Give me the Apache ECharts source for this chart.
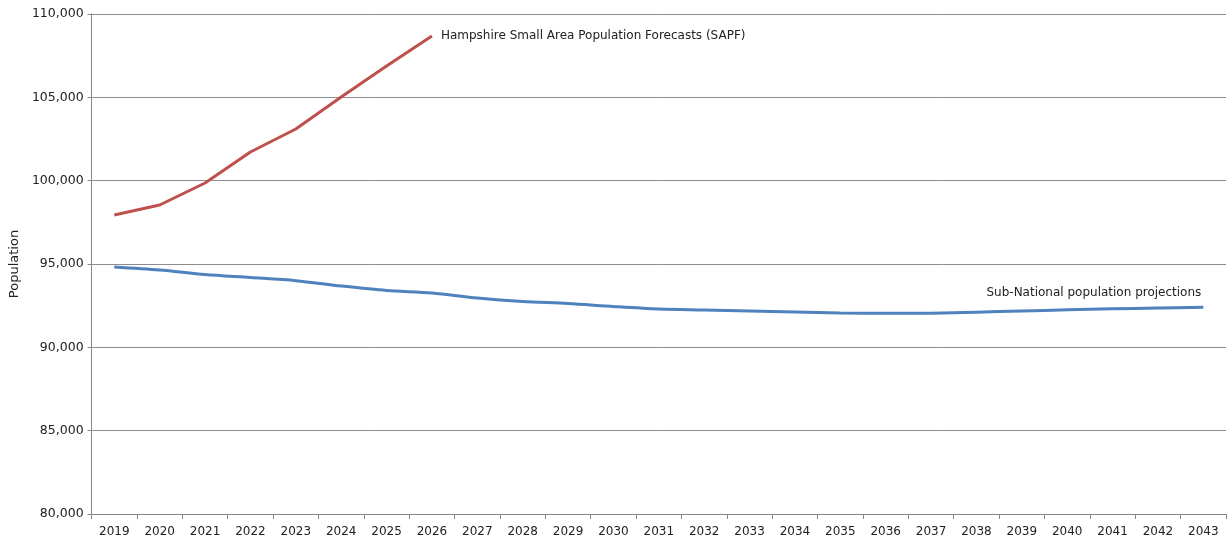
<!DOCTYPE html>
<html>
<head>
<meta charset="utf-8">
<script src="https://cdn.jsdelivr.net/npm/echarts@6/dist/echarts.min.js"></script>
<style>
  html, body { margin: 0; padding: 0; background: #fff; }
  #popChart { width: 1228px; height: 544px; }
</style>
</head>
<body>
<div id="popChart"></div>
<script>
// years on the x axis
var years = ['2019','2020','2021','2022','2023','2024','2025','2026','2027','2028','2029','2030',
  '2031','2032','2033','2034','2035','2036','2037','2038','2039','2040','2041','2042','2043'];
// Hampshire SAPF (only to 2026)
var sapf = [97940, 98540, 99860, 101720, 103100, 105020, 106880, 108680];
// sub-national population projections
var snpp = [94820, 94640, 94370, 94190, 94000, 93680, 93410, 93260, 92960, 92750, 92630, 92450,
  92300, 92240, 92180, 92120, 92060, 92040, 92050, 92110, 92180, 92250, 92310, 92360, 92400];
var sapfName = 'Hampshire Small Area Population Forecasts (SAPF)';
var snppName = 'Sub-National population projections';

var font = 'DejaVu Sans';

var chart = echarts.init(document.getElementById('popChart'));
chart.setOption({
  animation: false,
  grid: { left: 90, right: 2, top: 14, bottom: 30, containLabel: false },
  xAxis: {
    type: 'category',
    data: years,
    boundaryGap: true,
    axisLine: { lineStyle: { color: '#868686' } },
    axisTick: { show: true, alignWithLabel: false, length: 5, lineStyle: { color: '#868686' } },
    axisLabel: { color: '#222', fontFamily: font, fontSize: 12, margin: 12, interval: 0 },
    splitLine: { show: false }
  },
  yAxis: {
    type: 'value',
    min: 80000,
    max: 110000,
    interval: 5000,
    name: 'Population',
    nameLocation: 'middle',
    nameGap: 68,
    nameTextStyle: { color: '#222', fontFamily: font, fontSize: 13 },
    axisLine: { show: true, lineStyle: { color: '#868686' } },
    axisTick: { show: true, length: 4, lineStyle: { color: '#868686' } },
    axisLabel: {
      color: '#222', fontFamily: font, fontSize: 12.5, margin: 8,
      formatter: function (v) { return v.toLocaleString('en-GB'); }
    },
    splitLine: { lineStyle: { color: '#8c8c8c', width: 1 } }
  },
  series: [
    {
      name: sapfName,
      type: 'line',
      data: sapf,
      symbol: 'none',
      lineStyle: { color: '#C0504D', width: 3 },
      itemStyle: { color: '#C0504D' },
      endLabel: { show: true, formatter: sapfName, color: '#222', fontFamily: font, fontSize: 12, distance: 9 }
    },
    {
      name: snppName,
      type: 'line',
      data: snpp,
      symbol: 'none',
      smooth: 0.3,
      lineStyle: { color: '#4F81BD', width: 3 },
      itemStyle: { color: '#4F81BD' },
      // label sits above the end of the line, right aligned
      endLabel: { show: true, formatter: snppName, color: '#222', fontFamily: font, fontSize: 12,
        align: 'right', verticalAlign: 'bottom', distance: 0, offset: [-2, -8] }
    }
  ]
});
</script>
</body>
</html>
